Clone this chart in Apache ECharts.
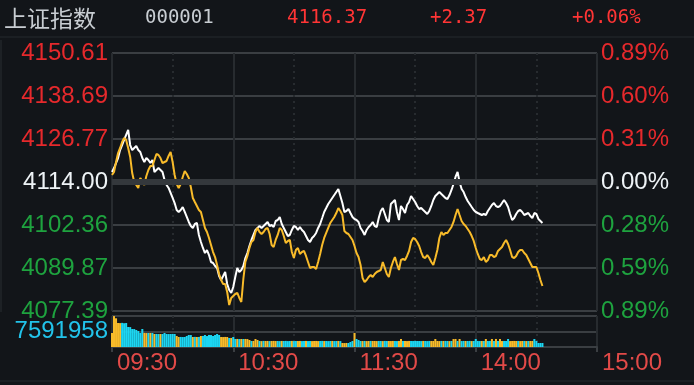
<!DOCTYPE html>
<html>
<head>
<meta charset="utf-8">
<script src="https://cdn.jsdelivr.net/npm/echarts@6/dist/echarts.min.js"></script>
<style>
html,body{margin:0;padding:0;background:#121519;}
#c{width:694px;height:385px;}
</style>
</head>
<body>
<div id="c"></div>
<script>
// ---- header texts ----
const indexName = '上证指数';
const indexCode = '000001';
const lastPrice = '4116.37';
const changeText = '+2.37';
const changePctText = '+0.06%';

// ---- axis ticks ----
const timeLabels = ['09:30', '10:30', '11:30', '14:00', '15:00'];
const leftTicks = ['4077.39', '4089.87', '4102.36', '4114.00', '4126.77', '4138.69', '4150.61'];
const rightTicks = ['0.89%', '0.59%', '0.28%', '0.00%', '0.31%', '0.60%', '0.89%'];
const prevClose = 4114.00;
const priceMin = 4077.39;
const priceMax = 4150.61;
const volumeTickValue = 7591958;
const totalMinutes = 240;

// ---- price line (white) ----
const priceLine = [
4116.84,4117.97,4119.39,4120.81,4123.08,4124.50,4125.92,4127.34,4128.76,4124.50,
4123.08,4123.65,4124.22,4123.08,4122.51,4120.81,4119.68,4120.81,4120.24,4119.39,
4120.24,4116.84,4117.41,4117.97,4117.41,4116.84,4114.57,4113.15,4112.30,4110.88,
4109.46,4108.04,4106.05,4105.49,4106.05,4106.90,4105.49,4104.07,4102.65,4101.51,
4100.95,4102.08,4102.36,4098.96,4096.97,4095.27,4093.85,4094.70,4093.28,4091.30,
4091.01,4090.16,4089.59,4087.32,4086.19,4087.32,4088.46,4085.05,4083.35,4082.50,
4084.20,4087.04,4089.59,4088.46,4089.03,4090.16,4092.43,4093.85,4095.84,4097.54,
4098.96,4100.38,4100.95,4101.51,4100.95,4101.51,4102.08,4102.65,4101.51,4101.80,
4101.23,4102.93,4103.22,4104.07,4102.08,4100.95,4099.81,4098.67,4098.96,4100.38,
4101.51,4101.23,4100.38,4101.23,4100.38,4099.81,4098.67,4097.54,4096.97,4098.11,
4098.67,4099.53,4100.95,4102.08,4103.78,4105.49,4106.62,4107.76,4108.61,4109.46,
4110.31,4111.16,4112.01,4110.03,4108.04,4105.49,4105.77,4106.34,4105.20,4104.07,
4103.50,4103.22,4102.65,4100.95,4100.09,4098.96,4100.38,4101.23,4101.80,4102.65,
4101.51,4101.23,4103.78,4105.77,4106.62,4104.92,4103.22,4102.65,4107.76,4108.32,
4108.89,4105.49,4103.22,4107.19,4106.34,4105.20,4107.47,4108.32,4110.03,4109.18,
4108.32,4107.19,4106.34,4106.62,4106.05,4105.49,4104.92,4105.77,4107.19,4108.89,
4110.03,4110.59,4111.16,4110.59,4110.03,4109.46,4109.18,4110.31,4111.73,4113.43,
4115.42,4116.84,4114.00,4112.01,4111.16,4109.74,4108.61,4107.76,4106.90,4106.05,
4105.49,4105.20,4104.92,4104.63,4104.92,4104.63,4105.77,4106.62,4107.47,4108.04,
4107.19,4106.90,4107.19,4108.04,4108.89,4108.04,4106.90,4104.92,4103.22,4103.78,
4104.92,4105.77,4106.05,4105.49,4104.63,4104.92,4105.20,4104.35,4103.78,4105.20,
4104.92,4103.50,4102.93,4102.36
];

// ---- second line (yellow) ----
const avgLine = [
4115.99,4116.84,4119.68,4122.23,4123.65,4125.35,4126.49,4125.92,4123.65,4121.10,
4116.55,4114.00,4113.15,4112.30,4115.14,4114.28,4113.15,4115.70,4117.41,4118.54,
4118.54,4120.24,4121.95,4121.66,4120.81,4119.39,4119.68,4119.96,4121.38,4122.51,
4119.68,4115.99,4113.43,4112.30,4113.43,4115.42,4117.12,4116.27,4115.14,4112.58,
4109.46,4108.32,4107.19,4106.05,4105.49,4103.22,4100.95,4099.81,4098.11,4096.12,
4094.13,4092.71,4090.44,4087.89,4086.19,4085.05,4085.05,4082.78,4079.09,4081.08,
4081.65,4082.21,4082.50,4081.08,4079.94,4086.47,4091.30,4093.00,4095.27,4096.97,
4097.54,4099.81,4100.95,4099.81,4099.24,4099.81,4100.66,4100.95,4099.24,4096.12,
4095.55,4097.54,4098.96,4100.95,4100.38,4098.67,4096.69,4097.26,4097.54,4094.13,
4092.43,4094.70,4095.27,4093.57,4094.13,4094.42,4093.00,4091.30,4089.59,4089.88,
4089.88,4089.31,4091.30,4093.57,4096.12,4098.11,4099.53,4100.95,4102.36,4103.22,
4104.07,4105.20,4106.62,4105.77,4104.63,4100.09,4099.53,4099.24,4098.39,4097.54,
4095.84,4093.85,4092.71,4090.44,4086.76,4085.62,4086.19,4087.04,4087.61,4087.04,
4087.89,4088.46,4088.74,4089.03,4091.30,4089.59,4087.89,4087.04,4089.59,4091.30,
4092.71,4090.73,4089.03,4091.86,4092.15,4091.86,4093.00,4094.42,4096.97,4098.11,
4097.82,4096.97,4095.84,4094.13,4092.71,4092.43,4093.28,4092.43,4091.30,4090.44,
4092.43,4094.70,4098.11,4099.81,4098.96,4099.53,4099.53,4100.38,4101.23,4102.65,
4104.63,4106.34,4104.63,4102.93,4102.08,4101.51,4100.66,4099.81,4098.67,4097.26,
4095.27,4093.57,4092.15,4091.86,4092.71,4091.30,4091.86,4093.28,4093.28,4092.71,
4093.00,4094.42,4094.99,4095.55,4096.69,4097.54,4096.40,4094.70,4092.71,4092.43,
4093.00,4094.13,4094.70,4094.70,4093.85,4093.28,4092.15,4091.01,4089.88,4089.88,
4089.88,4088.17,4086.19,4084.48
];

// ---- volumes ----
const volumes = [
6860000,15150000,14060000,11760000,11700000,11820000,11650000,11740000,9800000,9750000,
8820000,8790000,8330000,7840000,6860000,8820000,6900000,6830000,6870000,6850000,
6880000,6370000,6400000,6350000,6380000,6360000,6860000,6390000,6340000,6370000,
6410000,6360000,5390000,4900000,4930000,4880000,4910000,5390000,5880000,5860000,
4900000,4950000,4890000,4920000,5380000,5410000,5880000,5370000,5900000,5860000,
5400000,5870000,6370000,5890000,4900000,4870000,4930000,4890000,4410000,4430000,
4900000,3920000,3950000,3900000,3930000,3910000,3940000,3890000,3430000,2940000,
2960000,3920000,3440000,2950000,2900000,2980000,2930000,2960000,2910000,2940000,
2970000,2920000,2950000,2890000,2960000,2930000,2980000,2900000,2940000,2970000,
2910000,2950000,2930000,2960000,2900000,2940000,2970000,2920000,2950000,2890000,
2930000,2960000,2910000,2940000,2980000,2920000,2950000,2900000,2930000,2960000,
2910000,2940000,2970000,2900000,1960000,1930000,1980000,1950000,2450000,2940000,
6860000,3920000,3430000,2950000,2920000,2960000,2900000,2940000,2970000,2930000,
2950000,2910000,2960000,2940000,2900000,2970000,2930000,2950000,2920000,2960000,
2940000,2910000,2970000,3920000,2930000,2950000,2900000,2960000,2940000,2920000,
2970000,2930000,2950000,2910000,2960000,2940000,2900000,2970000,2930000,2950000,
3920000,2940000,2910000,2960000,2930000,2970000,2950000,2900000,2940000,3900000,
3940000,2940000,3910000,2920000,2960000,2930000,2950000,2970000,2910000,2940000,
3930000,2960000,2920000,2950000,2930000,3920000,2940000,2970000,3900000,2930000,
3940000,2950000,3910000,2920000,2960000,2940000,3930000,2910000,2950000,2970000,
2930000,2960000,2900000,2940000,2970000,2920000,2950000,2930000,2960000,3920000,
2940000,1960000,1950000,1970000
];
// 1 = up minute (yellow bar), 0 = down minute (cyan bar)
const volumeUp = [
1,1,1,1,1,0,0,0,0,0, 0,0,0,0,0,0,1,1,0,1, 0,1,0,0,1,0,0,0,0,0, 0,0,1,1,0,0,0,0,0,0,
1,0,1,0,1,0,0,0,0,0, 0,0,0,0,1,1,1,1,0,1, 0,0,1,0,1,0,1,1,1,0, 1,1,1,0,1,0,1,1,0,1,
1,1,0,0,1,0,0,0,0,1, 0,0,1,1,0,0,1,0,0,1, 1,1,1,0,0,1,0,0,0,1, 0,0,1,0,1,1,1,0,0,0,
1,0,0,0,1,0,1,1,0,1, 1,1,0,0,1,0,0,1,1,1, 0,0,1,1,0,1,1,1,0,0, 0,0,0,0,1,0,0,0,1,1,
1,1,1,0,1,0,0,1,0,1, 1,0,1,0,0,1,0,0,1,0, 0,0,0,1,0,1,0,0,1,0, 1,0,1,1,0,0,0,1,1,1,
1,0,1,1,0,1,0,1,1,0, 0,0,0,0
];

const C = {
  bg: '#121519',
  gridH: '#3a3e42',
  gridV: '#272b2f',
  zero: '#34383c',
  white: '#ffffff',
  yellow: '#f8bb2a',
  cyan: '#1cd6f2',
  red: '#e6292c',
  green: '#1ea33f',
  labelWhite: '#eef3f6',
  timeRed: '#e24a48',
  volLabel: '#22c3ea',
  headRed: '#ff3535',
  headGrey: '#c8cdd2'
};

const chart = echarts.init(document.getElementById('c'), null, {renderer: 'canvas'});

const priceData = priceLine.map((v, i) => [i, v]);
const avgData = avgLine.map((v, i) => [i, v]);
const volData = volumes.map((v, i) => ({
  value: [i, v],
  itemStyle: {color: volumeUp[i] ? C.yellow : C.cyan}
}));

const labelFont = {fontFamily: 'Liberation Sans', fontSize: 24};

function stepIndex(v) { return Math.round(Number(v)) + 3; }
function stepColor(v) {
  const k = stepIndex(v);
  return k > 3 ? C.red : (k < 3 ? C.green : C.labelWhite);
}

function xAxisPair(gridIndex, withLabels) {
  return [
    {
      gridIndex, type: 'value', min: 0, max: totalMinutes, interval: 30, position: 'top',
      axisLine: {show: false}, axisTick: {show: false}, axisLabel: {show: false},
      splitLine: {show: true, lineStyle: {color: C.gridV, width: 2, type: [2, 4]}}
    },
    {
      gridIndex, type: 'value', min: 0, max: totalMinutes, interval: 60, position: 'bottom',
      axisLine: {show: withLabels, lineStyle: {color: C.gridH, width: 2}},
      axisTick: {show: withLabels, length: 5, lineStyle: {color: C.gridH, width: 2}},
      axisLabel: withLabels ? Object.assign({
        show: true, color: C.timeRed, align: 'left', margin: 4, padding: [0, 0, 0, 5],
        formatter: v => timeLabels[Math.round(v / 60)] || ''
      }, labelFont) : {show: false},
      splitLine: {show: true, lineStyle: {color: C.gridV, width: 2}}
    }
  ];
}

const option = {
  backgroundColor: C.bg,
  animation: false,
  textStyle: {fontFamily: 'Liberation Sans'},
  grid: [
    {left: 112, right: 97, top: 53, height: 258},
    {left: 112, right: 97, top: 316, height: 31}
  ],
  xAxis: [].concat(xAxisPair(0, false), xAxisPair(1, true)),
  yAxis: [
    {gridIndex: 0, type: 'value', min: priceMin, max: priceMax, show: false, splitLine: {show: false}},
    {
      gridIndex: 0, type: 'value', min: -3, max: 3, interval: 1, position: 'left',
      axisLine: {show: false}, axisTick: {show: false},
      axisLabel: Object.assign({margin: 4, formatter: v => leftTicks[stepIndex(v)], color: v => stepColor(v)}, labelFont),
      splitLine: {show: true, lineStyle: {color: C.gridH, width: 2}}
    },
    {
      gridIndex: 0, type: 'value', min: -3, max: 3, interval: 1, position: 'right',
      axisLine: {show: false}, axisTick: {show: false},
      axisLabel: Object.assign({margin: 4, formatter: v => rightTicks[stepIndex(v)], color: v => stepColor(v)}, labelFont),
      splitLine: {show: false}
    },
    {
      gridIndex: 1, type: 'value', min: 0, max: volumeTickValue * 2, interval: volumeTickValue, position: 'left',
      axisLine: {show: false}, axisTick: {show: false},
      axisLabel: Object.assign({margin: 4, color: C.volLabel, formatter: v => (v === volumeTickValue ? String(volumeTickValue) : '')}, labelFont),
      splitLine: {show: true, lineStyle: {color: C.gridH, width: 2}}
    }
  ],
  series: [
    {
      name: 'prevClose', type: 'line', xAxisIndex: 1, yAxisIndex: 0, data: [], z: 1, silent: true,
      markLine: {
        silent: true, symbol: ['none', 'none'], label: {show: false},
        lineStyle: {color: C.zero, width: 6, type: 'solid'},
        data: [{yAxis: prevClose}]
      }
    },
    {
      name: 'price', type: 'line', xAxisIndex: 1, yAxisIndex: 0, data: priceData, z: 3,
      showSymbol: false, symbol: 'none', lineStyle: {color: C.white, width: 2}
    },
    {
      name: 'avg', type: 'line', xAxisIndex: 1, yAxisIndex: 0, data: avgData, z: 4,
      showSymbol: false, symbol: 'none', lineStyle: {color: C.yellow, width: 2}
    },
    {
      name: 'volume', type: 'bar', xAxisIndex: 3, yAxisIndex: 3, data: volData, barWidth: 2.02, z: 3
    }
  ],
  graphic: [
    {type: 'rect', shape: {x: 0, y: 36, width: 694, height: 2}, style: {fill: '#1b1f23'}, silent: true},
    {type: 'rect', shape: {x: 0, y: 40, width: 2, height: 272}, style: {fill: '#1d2125'}, silent: true},
    {type: 'rect', shape: {x: 0, y: 380, width: 694, height: 2}, style: {fill: '#1b1f23'}, silent: true},
    {type: 'text', x: 4, y: 18, style: {text: indexName, fill: C.headGrey, font: '23px "Noto Sans CJK SC"', verticalAlign: 'middle'}},
    {type: 'text', x: 145, y: 18, style: {text: indexCode, fill: C.headGrey, font: '19px "DejaVu Sans Mono"', verticalAlign: 'middle'}},
    {type: 'text', x: 287, y: 18, style: {text: lastPrice, fill: C.headRed, font: '19px "DejaVu Sans Mono"', verticalAlign: 'middle'}},
    {type: 'text', x: 430, y: 18, style: {text: changeText, fill: C.headRed, font: '19px "DejaVu Sans Mono"', verticalAlign: 'middle'}},
    {type: 'text', x: 572, y: 18, style: {text: changePctText, fill: C.headRed, font: '19px "DejaVu Sans Mono"', verticalAlign: 'middle'}}
  ]
};

chart.setOption(option);
</script>
</body>
</html>
